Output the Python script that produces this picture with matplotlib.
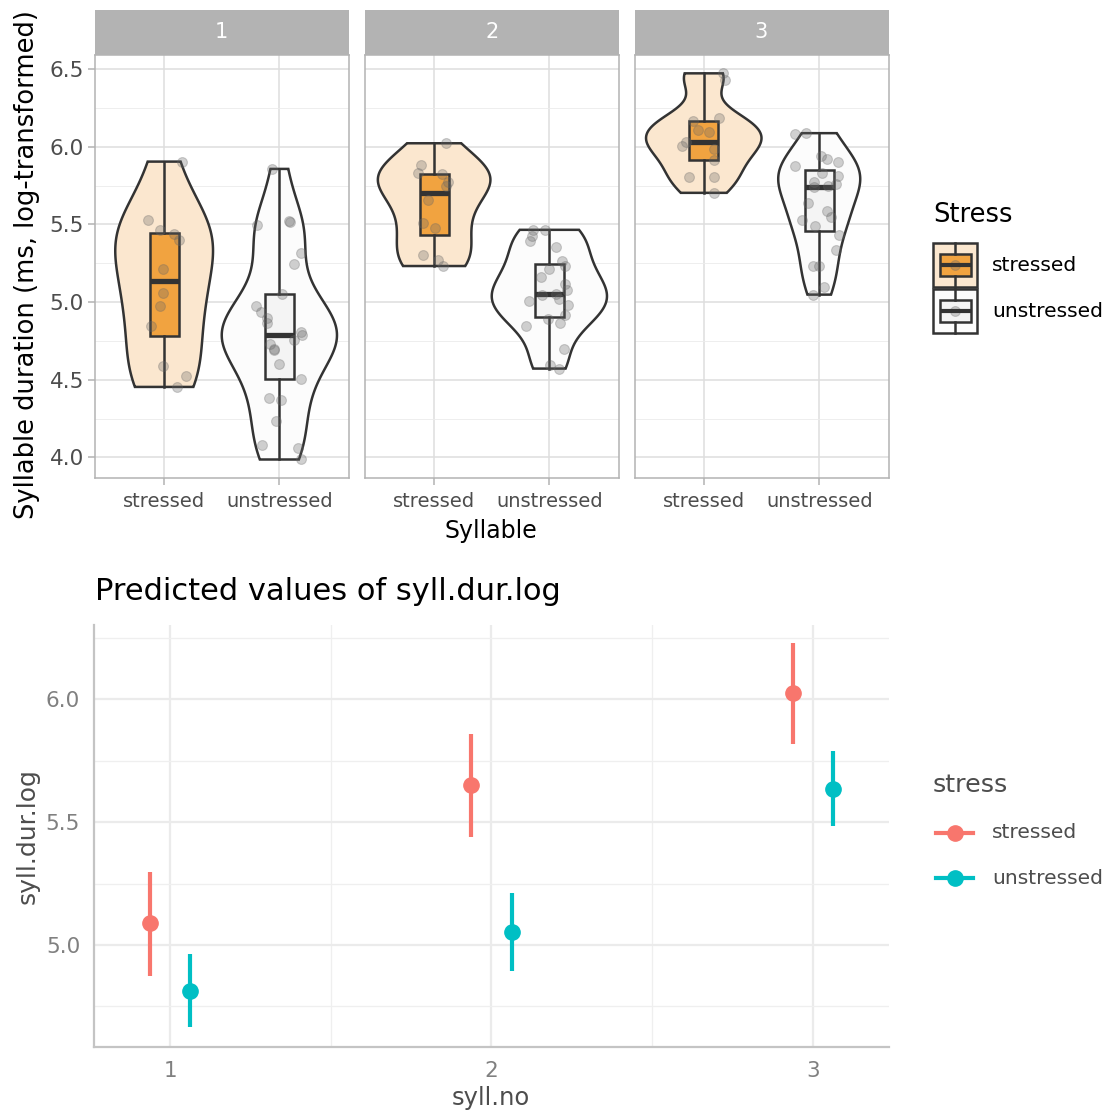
import numpy as np
import matplotlib
matplotlib.use("Agg")
import matplotlib.pyplot as plt
from matplotlib.patches import Rectangle

W, H = 1109, 1115

# log syllable durations per position and stress, with the horizontal jitter of each point
s1_stressed = [5.904, 5.525, 5.467, 5.440, 5.400, 5.213, 5.058, 4.973, 4.846, 4.587, 4.525, 4.454]
s1_stressed_dx = [0.157, -0.137, -0.037, 0.086, 0.129, -0.014, -0.009, -0.034, -0.111, -0.006, 0.186, 0.109]
s1_unstressed = [5.857, 5.493, 5.521, 5.515, 5.318, 5.243, 5.054, 4.973, 4.936, 4.900, 4.865, 4.808, 4.786,
                 4.754, 4.733, 4.700, 4.690, 4.600, 4.503, 4.383, 4.368, 4.236, 4.079, 4.058, 3.987]
s1_unstressed_dx = [-0.063, -0.194, 0.086, 0.094, 0.186, 0.129, 0.023, -0.200, -0.157, -0.106, -0.109, 0.191, 0.200,
                    0.129, -0.077, -0.049, -0.043, -0.006, 0.186, -0.086, 0.014, -0.029, -0.151, 0.166, 0.186]

s2_stressed = [6.022, 5.879, 5.832, 5.821, 5.772, 5.750, 5.658, 5.508, 5.478, 5.305, 5.268, 5.232]
s2_stressed_dx = [0.106, -0.114, -0.143, 0.066, 0.120, 0.100, -0.057, -0.094, 0.006, -0.100, 0.037, 0.080]
s2_unstressed = [5.465, 5.465, 5.428, 5.392, 5.354, 5.264, 5.232, 5.214, 5.161, 5.118, 5.079, 5.043,
                 5.049, 5.022, 5.005, 4.979, 4.893, 4.914, 4.865, 4.846, 4.696, 4.597, 4.572]
s2_unstressed_dx = [-0.143, -0.037, -0.149, -0.166, 0.057, 0.114, 0.137, 0.000, -0.071, 0.134, 0.157, -0.063,
                    0.057, 0.080, -0.177, 0.166, -0.014, 0.134, 0.094, -0.200, 0.129, 0.009, 0.080]

s3_stressed = [6.472, 6.431, 6.168, 6.185, 6.110, 6.097, 6.030, 6.003, 5.986, 5.915, 5.804, 5.808, 5.703]
s3_stressed_dx = [0.166, 0.186, -0.094, 0.134, -0.049, 0.049, -0.151, -0.186, 0.086, 0.086, -0.129, 0.086, 0.091]
s3_unstressed = [6.082, 6.087, 5.937, 5.922, 5.900, 5.873, 5.830, 5.811, 5.772, 5.761, 5.746, 5.738,
                 5.637, 5.583, 5.547, 5.526, 5.487, 5.429, 5.337, 5.232, 5.232, 5.097, 5.048]
s3_unstressed_dx = [-0.206, -0.114, 0.014, 0.071, 0.163, -0.206, 0.020, 0.163, -0.043, 0.143, 0.080, -0.043,
                    -0.094, 0.066, 0.106, -0.149, -0.037, 0.171, 0.149, -0.057, 0.000, 0.043, -0.057]

stress_levels = ["stressed", "unstressed"]
facet_labels = ["1", "2", "3"]

# model predictions with 95% intervals
syll_no = [1, 2, 3]
pred_stressed = [5.088, 5.651, 6.024]
pred_stressed_lo = [4.875, 5.441, 5.818]
pred_stressed_hi = [5.298, 5.859, 6.228]
pred_unstressed = [4.814, 5.054, 5.635]
pred_unstressed_lo = [4.665, 4.895, 5.486]
pred_unstressed_hi = [4.962, 5.213, 5.790]

BOX_FILL = {"stressed": "#F1A340", "unstressed": "#F4F4F4"}
VIOLIN_FILL = {"stressed": "#FBE7CF", "unstressed": "#FCFCFC"}
PRED_COL = {"stressed": "#F8766D", "unstressed": "#00BFC4"}
DARK = "#333333"


def px_axes(fig, x0, y0, x1, y1, **kw):
    """Add axes from pixel corners (top-left origin)."""
    return fig.add_axes([x0 / W, 1 - y1 / H, (x1 - x0) / W, (y1 - y0) / H], **kw)


def nrd0(x):
    x = np.asarray(x)
    q75, q25 = np.percentile(x, [75, 25])
    lo = min(x.std(ddof=1), (q75 - q25) / 1.34)
    return 0.9 * lo * len(x) ** -0.2


def kde(x, n=512):
    x = np.asarray(x)
    grid = np.linspace(x.min(), x.max(), n)
    bw = nrd0(x)
    z = (grid[:, None] - x[None, :]) / bw
    d = np.exp(-0.5 * z ** 2).sum(axis=1) / (len(x) * bw * np.sqrt(2 * np.pi))
    return grid, d


fig = plt.figure(figsize=(W / 100, H / 100), dpi=100)
fig.patch.set_facecolor("white")

panels = [
    (s1_stressed, s1_stressed_dx, s1_unstressed, s1_unstressed_dx),
    (s2_stressed, s2_stressed_dx, s2_unstressed, s2_unstressed_dx),
    (s3_stressed, s3_stressed_dx, s3_unstressed, s3_unstressed_dx),
]
panel_x = [(95, 348.5), (365, 618.5), (634.5, 888.5)]

for i, (x0, x1) in enumerate(panel_x):
    ax = px_axes(fig, x0, 55, x1, 478.3)
    strip = px_axes(fig, x0, 10, x1, 55)
    strip.set_facecolor("#B3B3B3")
    strip.set_xticks([])
    strip.set_yticks([])
    for sp in strip.spines.values():
        sp.set_visible(False)
    strip.text(0.5, 0.5, facet_labels[i], color="white", fontsize=15,
               ha="center", va="center", transform=strip.transAxes)

    st, st_dx, un, un_dx = panels[i]
    groups = [(st, st_dx, "stressed"), (un, un_dx, "unstressed")]
    dens = [kde(g[0]) for g in groups]
    dmax = max(d.max() for _, d in dens)

    for j, ((vals, dx, lev), (grid, d)) in enumerate(zip(groups, dens)):
        pos = j + 1
        half = d / dmax * 0.5
        ax.fill(np.r_[pos - half, (pos + half)[::-1]], np.r_[grid, grid[::-1]],
                facecolor=VIOLIN_FILL[lev], edgecolor=DARK, linewidth=1.8, zorder=2)
        ax.boxplot([vals], positions=[pos], widths=0.25, patch_artist=True,
                   showcaps=False, showfliers=False, whis=1.5,
                   boxprops=dict(facecolor=BOX_FILL[lev], edgecolor=DARK, linewidth=1.8),
                   whiskerprops=dict(color=DARK, linewidth=1.8),
                   medianprops=dict(color=DARK, linewidth=3.8, solid_capstyle="butt"),
                   zorder=3)
        ax.scatter(pos + np.asarray(dx), vals, s=50, color="#666666", alpha=0.3,
                   edgecolors="#666666", linewidths=0.8, zorder=4)

    ax.set_xlim(0.4, 2.6)
    ax.set_ylim(3.866, 6.59)
    ax.set_xticks([1, 2])
    ax.set_xticklabels(stress_levels)
    ax.set_yticks([4.0, 4.5, 5.0, 5.5, 6.0, 6.5])
    ax.set_yticks([4.25, 4.75, 5.25, 5.75, 6.25], minor=True)
    ax.grid(True, which="major", color="#DEDEDE", linewidth=1.1, zorder=0)
    ax.grid(True, which="minor", axis="y", color="#EBEBEB", linewidth=0.6, zorder=0)
    ax.set_axisbelow(True)
    for sp in ax.spines.values():
        sp.set_color("#B3B3B3")
        sp.set_linewidth(1.1)
    ax.tick_params(which="major", color="#B3B3B3", length=5, width=1.1,
                   labelsize=14, labelcolor="#4D4D4D", pad=3)
    ax.tick_params(axis="x", pad=5)
    ax.tick_params(axis="y", labelsize=15.5)
    ax.tick_params(which="minor", length=0)
    if i == 0:
        ax.set_yticklabels(["4.0", "4.5", "5.0", "5.5", "6.0", "6.5"])
    else:
        ax.tick_params(axis="y", which="both", left=False, labelleft=False)

fig.text(491 / W, 1 - 531 / H, "Syllable", fontsize=17, ha="center", va="center")
fig.text(27 / W, 1 - 265 / H, "Syllable duration (ms, log-transformed)", fontsize=18.5,
         rotation=90, ha="center", va="center")

# predicted values panel
bx = px_axes(fig, 94, 625, 889, 1046.7)
dodge = 0.0625
for lev, y, lo, hi, off in [
    ("stressed", pred_stressed, pred_stressed_lo, pred_stressed_hi, -dodge),
    ("unstressed", pred_unstressed, pred_unstressed_lo, pred_unstressed_hi, dodge),
]:
    xs = np.asarray(syll_no) + off
    bx.vlines(xs, lo, hi, color=PRED_COL[lev], linewidth=3, zorder=3)
    bx.plot(xs, y, "o", color=PRED_COL[lev], markersize=11, zorder=4)

bx.set_xlim(0.763, 3.237)
bx.set_ylim(4.586, 6.302)
bx.set_xticks(syll_no)
bx.set_xticks([1.5, 2.5], minor=True)
bx.set_yticks([5.0, 5.5, 6.0])
bx.set_yticks([4.75, 5.25, 5.75, 6.25], minor=True)
bx.grid(True, which="major", color="#EBEBEB", linewidth=1.6, zorder=0)
bx.grid(True, which="minor", color="#EFEFEF", linewidth=0.9, zorder=0)
bx.set_axisbelow(True)
for side in ["top", "right"]:
    bx.spines[side].set_visible(False)
for side in ["left", "bottom"]:
    bx.spines[side].set_color("#C4C4C4")
    bx.spines[side].set_linewidth(1.6)
bx.tick_params(which="both", length=0, labelsize=15.5, labelcolor="#808080", pad=10)

fig.text(95 / W, 1 - 592 / H, "Predicted values of syll.dur.log", fontsize=22,
         ha="left", va="center")
fig.text(491 / W, 1 - 1098 / H, "syll.no", fontsize=17.5, color="#4D4D4D",
         ha="center", va="center")
fig.text(28 / W, 1 - 836 / H, "syll.dur.log", fontsize=18, color="#4D4D4D",
         rotation=90, ha="center", va="center")

# legends, laid out in pixel units
lg = px_axes(fig, 900, 170, 1109, 920)
lg.set_xlim(900, 1109)
lg.set_ylim(920, 170)
lg.axis("off")

lg.text(933, 215, "Stress", fontsize=18.5, ha="left", va="center")
for lev, top in [("stressed", 242.7), ("unstressed", 288.7)]:
    lg.add_patch(Rectangle((933.3, top), 43.4, 44, facecolor=VIOLIN_FILL[lev],
                           edgecolor=DARK, linewidth=1.8))
    mid = top + 22.3
    lg.plot([955, 955], [top, top + 11.3], color=DARK, linewidth=1.8)
    lg.plot([955, 955], [top + 33, top + 44], color=DARK, linewidth=1.8)
    lg.add_patch(Rectangle((939.5, top + 11.3), 31.5, 21.7, facecolor=BOX_FILL[lev],
                           edgecolor=DARK, linewidth=1.8))
    lg.plot([939.5, 971], [mid, mid], color=DARK, linewidth=3.0, solid_capstyle="butt")
    lg.scatter([955], [mid], s=50, color="#666666", alpha=0.3, edgecolors="#666666", linewidths=0.8)
    lg.text(992, mid, lev, fontsize=14.6, ha="left", va="center")

lg.text(933, 785, "stress", fontsize=18.3, color="#4D4D4D", ha="left", va="center")
for lev, yc in [("stressed", 832.7), ("unstressed", 878.3)]:
    lg.plot([936, 973], [yc, yc], color=PRED_COL[lev], linewidth=3)
    lg.plot([955], [yc], "o", color=PRED_COL[lev], markersize=11)
    lg.text(992, yc, lev, fontsize=14.6, color="#4D4D4D", ha="left", va="center")

fig.savefig("out.png", dpi=100)
